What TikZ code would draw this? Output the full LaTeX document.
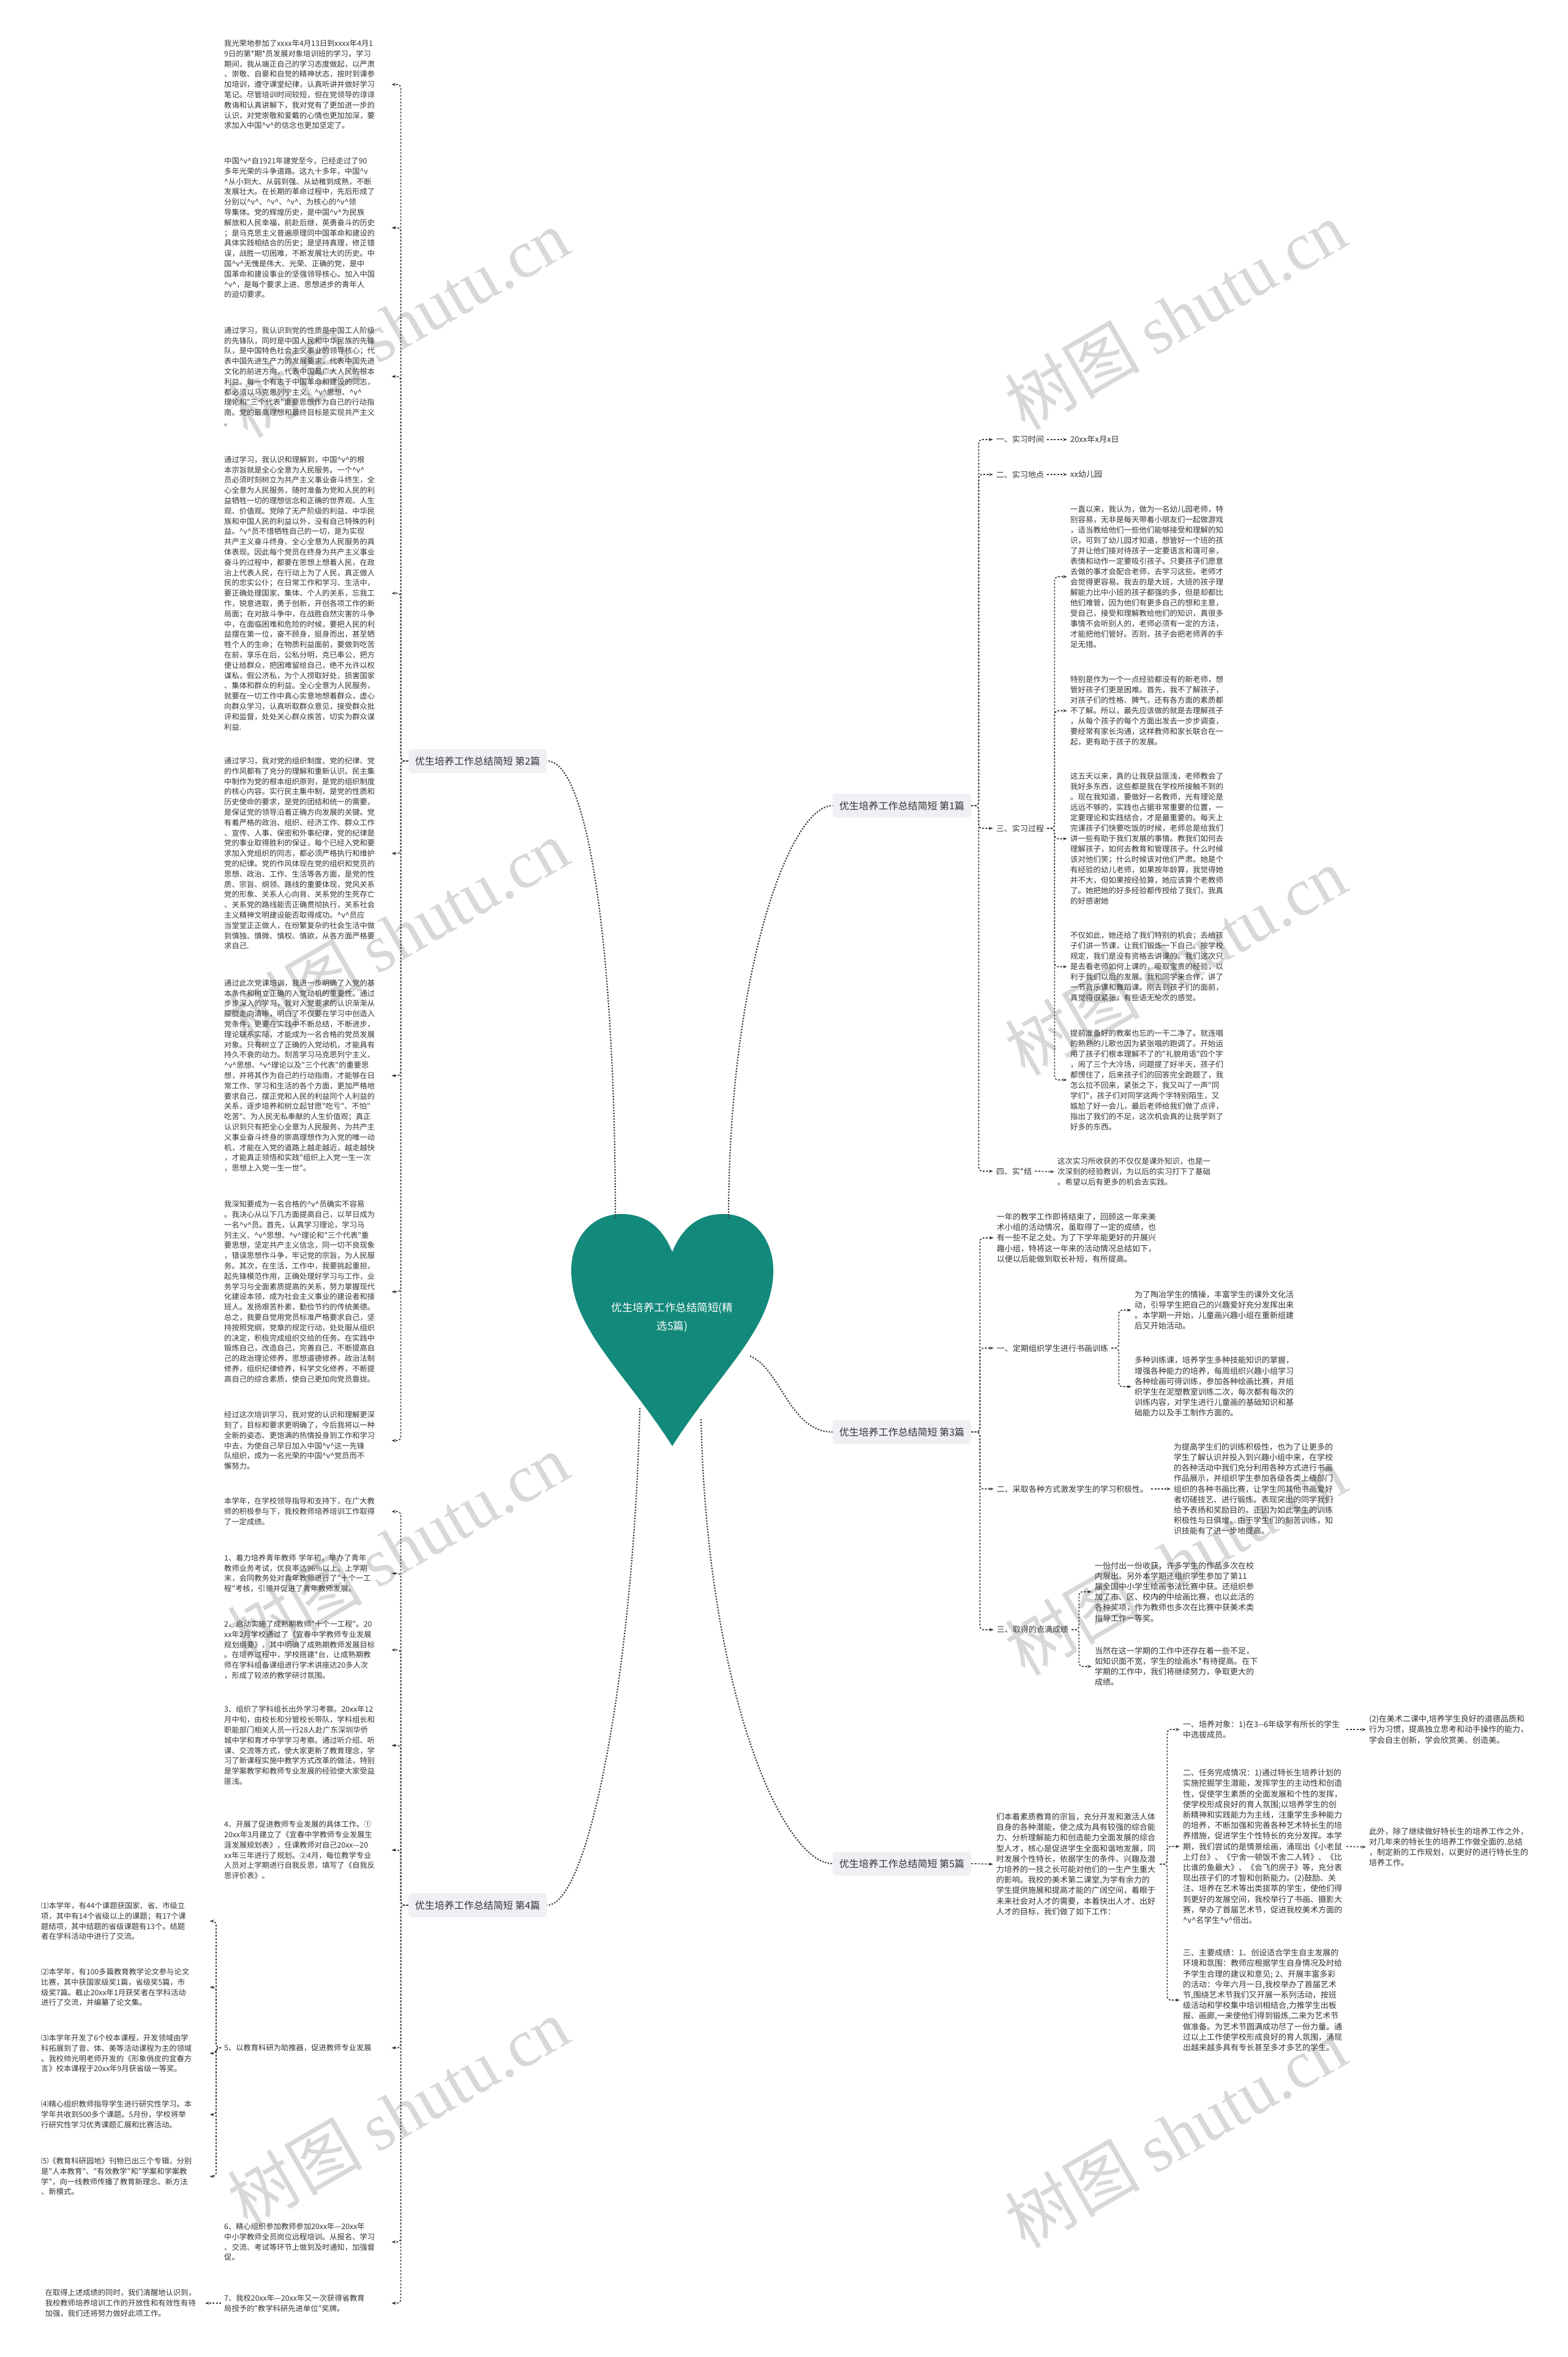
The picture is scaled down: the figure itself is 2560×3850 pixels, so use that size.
\documentclass[tikz,border=0pt]{standalone}
\usepackage{fontspec}
\usetikzlibrary{arrows.meta}
\newfontfamily\cjk{Noto Sans CJK SC}
\newfontfamily\wmfont{Liberation Serif}
\definecolor{txt}{HTML}{333333}
\definecolor{linec}{HTML}{3A3A3A}
\definecolor{labfill}{HTML}{EEF0F3}
\definecolor{heartc}{HTML}{13897B}
\definecolor{wmc}{HTML}{D8D8D8}
\newcommand{\vv}{\textasciicircum v\textasciicircum}
\begin{document}
\begin{tikzpicture}[x=1pt, y=-1pt]
    \tikzstyle{para} = [font=\cjk\fontsize{12.3}{16.8}\selectfont, text=txt, align=left, text width=268pt, inner xsep=5pt, inner ysep=2pt]
    \tikzstyle{parb} = [font=\cjk\fontsize{12.5}{17}\selectfont, text=txt, align=left, text width=262pt, inner xsep=5pt, inner ysep=2pt]
    \tikzstyle{parc} = [font=\cjk\fontsize{13}{17.2}\selectfont, text=txt, align=left, text width=262pt, inner xsep=5pt, inner ysep=2pt]
    \tikzstyle{item} = [font=\cjk\fontsize{13}{17}\selectfont, text=txt, inner xsep=5pt]
    \tikzstyle{branch} = [rectangle, rounded corners=6pt, fill=labfill, font=\cjk\fontsize{16}{18}\selectfont, text=txt, inner xsep=11pt, minimum height=39pt]
    \tikzstyle{root} = [font=\cjk\fontsize{17.5}{30}\selectfont, text=white, align=center]
    \tikzstyle{wmark} = [font=\fontsize{110}{110}\selectfont, text=wmc, rotate=30]
    \tikzstyle{link} = [draw=linec, line width=1.6pt, dash pattern=on 3pt off 2.5pt, rounded corners=6pt, -{Stealth[length=7pt,width=5pt]}]
    \tikzstyle{stem} = [draw=linec, line width=2.2pt, dash pattern=on 2.2pt off 2.4pt]

    \useasboundingbox (0,0) rectangle (2560,3850);
    \fill [white] (0,0) rectangle (2560,3850);

    % Watermarks
    \foreach \wx/\wy [count=\i] in {650/528, 1920/515, 650/1525, 1920/1570, 650/2528, 1920/2550, 650/3450, 1920/3485}
        \node [wmark] (wm\i) at (\wx,\wy) {\cjk 树图 \wmfont shutu.cn};

    % Heart
    \fill [heartc] (1098,2045) .. controls (1080,2000) and (1050,1983) .. (1015,1983)
        .. controls (965,1983) and (933,2025) .. (933,2075)
        .. controls (933,2170) and (1020,2240) .. (1098,2362)
        .. controls (1176,2240) and (1263,2170) .. (1263,2075)
        .. controls (1263,2025) and (1231,1983) .. (1181,1983)
        .. controls (1146,1983) and (1116,2000) .. (1098,2045) -- cycle;
    \node [root] (root) at (1098,2152) {优生培养工作总结简短(精\\选5篇)};
    \coordinate (hl) at (1005,1990);
    \coordinate (hr) at (1190,1990);
    \coordinate (hm) at (1225,2215);
    \coordinate (hb) at (1145,2318);
    \coordinate (hd) at (1045,2300);

    % Branches
    \node [branch] (lab2) at (780,1243) {优生培养工作总结简短 第2篇};
    \node [branch] (lab4) at (780,3112) {优生培养工作总结简短 第4篇};
    \node [branch] (lab1) at (1473,1316) {优生培养工作总结简短 第1篇};
    \node [branch] (lab3) at (1473,2339) {优生培养工作总结简短 第3篇};
    \node [branch] (lab5) at (1473,3044) {优生培养工作总结简短 第5篇};

    \draw [stem] (hl) .. controls +(0,-420) and +(70,0) .. (lab2.east);
    \draw [stem] (hd) .. controls +(-10,420) and +(70,0) .. (lab4.east);
    \draw [stem] (hr) .. controls +(0,-400) and +(-70,0) .. (lab1.west);
    \draw [stem] (hm) .. controls +(50,20) and +(-70,0) .. (lab3.west);
    \draw [stem] (hb) .. controls +(10,450) and +(-80,0) .. (lab5.west);

    % Part 2
    \node [para, anchor=west] (p1) at (361,138) {我光荣地参加了xxxx年4月13日到xxxx年4月1\\9日的第*期*员发展对象培训班的学习。学习\\期间，我从端正自己的学习态度做起，以严肃\\、崇敬、自豪和自觉的精神状态，按时到课参\\加培训，遵守课堂纪律，认真听讲并做好学习\\笔记。尽管培训时间较短，但在党领导的谆谆\\教诲和认真讲解下，我对党有了更加进一步的\\认识，对党崇敬和爱戴的心情也更加加深，要\\求加入中国\vv{}的信念也更加坚定了。};
    \node [para, anchor=west] (p2) at (361,372) {中国\vv{}自1921年建党至今，已经走过了90\\多年光荣的斗争道路。这九十多年，中国\textasciicircum v\\\textasciicircum 从小到大、从弱到强、从幼稚到成熟，不断\\发展壮大。在长期的革命过程中，先后形成了\\分别以\vv{}、\vv{}、\vv{}、为核心的\vv{}领\\导集体。党的辉煌历史，是中国\vv{}为民族\\解放和人民幸福，前赴后继，英勇奋斗的历史\\；是马克思主义普遍原理同中国革命和建设的\\具体实践相结合的历史；是坚持真理，修正错\\误，战胜一切困难，不断发展壮大的历史。中\\国\vv{}无愧是伟大、光荣、正确的党，是中\\国革命和建设事业的坚强领导核心。加入中国\\\vv{}，是每个要求上进、思想进步的青年人\\的迫切要求。};
    \node [para, anchor=west] (p3) at (361,615) {通过学习，我认识到党的性质是中国工人阶级\\的先锋队，同时是中国人民和中华民族的先锋\\队，是中国特色社会主义事业的领导核心；代\\表中国先进生产力的发展要求，代表中国先进\\文化的前进方向，代表中国最广大人民的根本\\利益。每一个有志于中国革命和建设的同志，\\都必须以马克思列宁主义、\vv{}思想、\vv{}\\理论和"三个代表"重要思想作为自己的行动指\\南。党的最高理想和最终目标是实现共产主义\\。};
    \node [para, anchor=west] (p4) at (361,969) {通过学习，我认识和理解到，中国\vv{}的根\\本宗旨就是全心全意为人民服务。一个\vv{}\\员必须时刻树立为共产主义事业奋斗终生，全\\心全意为人民服务，随时准备为党和人民的利\\益牺牲一切的理想信念和正确的世界观、人生\\观、价值观。党除了无产阶级的利益、中华民\\族和中国人民的利益以外，没有自己特殊的利\\益。\vv{}员不惜牺牲自己的一切，是为实现\\共产主义奋斗终身、全心全意为人民服务的具\\体表现。因此每个党员在终身为共产主义事业\\奋斗的过程中，都要在思想上想着人民，在政\\治上代表人民，在行动上为了人民，真正做人\\民的忠实公仆；在日常工作和学习、生活中，\\要正确处理国家、集体、个人的关系，忘我工\\作，锐意进取，勇于创新，开创各项工作的新\\局面；在对敌斗争中，在战胜自然灾害的斗争\\中，在面临困难和危险的时候，要把人民的利\\益摆在第一位，奋不顾身，挺身而出，甚至牺\\牲个人的生命；在物质利益面前，要做到吃苦\\在前，享乐在后，公私分明，克已奉公，把方\\便让给群众，把困难留给自己，绝不允许以权\\谋私，假公济私，为个人捞取好处，损害国家\\、集体和群众的利益。全心全意为人民服务，\\就要在一切工作中真心实意地想着群众，虚心\\向群众学习，认真听取群众意见，接受群众批\\评和监督，处处关心群众疾苦，切实为群众谋\\利益.};
    \node [para, anchor=west] (p5) at (361,1394) {通过学习，我对党的组织制度、党的纪律、党\\的作风都有了充分的理解和重新认识。民主集\\中制作为党的根本组织原则，是党的组织制度\\的核心内容。实行民主集中制，是党的性质和\\历史使命的要求，是党的团结和统一的需要，\\是保证党的领导沿着正确方向发展的关键。党\\有着严格的政治、组织、经济工作、群众工作\\、宣传、人事、保密和外事纪律，党的纪律是\\党的事业取得胜利的保证，每个已经入党和要\\求加入党组织的同志，都必须严格执行和维护\\党的纪律。党的作风体现在党的组织和党员的\\思想、政治、工作、生活等各方面，是党的性\\质、宗旨、纲领、路线的重要体现，党风关系\\党的形象、关系人心向背、关系党的生死存亡\\、关系党的路线能否正确贯彻执行，关系社会\\主义精神文明建设能否取得成功。\vv{}员应\\当堂堂正正做人，在纷繁复杂的社会生活中做\\到慎独、慎微、慎权、慎欲，从各方面严格要\\求自己.};
    \node [para, anchor=west] (p6) at (361,1757) {通过此次党课培训，我进一步明确了入党的基\\本条件和树立正确的入党动机的重要性。通过\\步步深入的学习，我对入党要求的认识渐渐从\\朦胧走向清晰，明白了不仅要在学习中创造入\\党条件，更要在实践中不断总结，不断进步，\\理论联系实际，才能成为一名合格的党员发展\\对象。只有树立了正确的入党动机，才能具有\\持久不衰的动力。刻苦学习马克思列宁主义、\\\vv{}思想、\vv{}理论以及"三个代表"的重要思\\想，并将其作为自己的行动指南，才能够在日\\常工作、学习和生活的各个方面，更加严格地\\要求自己，摆正党和人民的利益同个人利益的\\关系，逐步培养和树立起甘愿"吃亏"、不怕"\\吃苦"、为人民无私奉献的人生价值观；真正\\认识到只有把全心全意为人民服务，为共产主\\义事业奋斗终身的崇高理想作为入党的唯一动\\机，才能在入党的道路上越走越近，越走越快\\，才能真正领悟和实践"组织上入党一生一次\\，思想上入党一生一世"。};
    \node [para, anchor=west] (p7) at (361,2110) {我深知要成为一名合格的\vv{}员确实不容易\\。我决心从以下几方面提高自己，以早日成为\\一名\vv{}员。首先，认真学习理论，学习马\\列主义、\vv{}思想、\vv{}理论和"三个代表"重\\要思想，坚定共产主义信念，同一切不良现象\\，错误思想作斗争，牢记党的宗旨，为人民服\\务。其次，在生活，工作中，我要挑起重担，\\起先锋模范作用，正确处理好学习与工作，业\\务学习与全面素质提高的关系，努力掌握现代\\化建设本领，成为社会主义事业的建设者和接\\班人。发扬艰苦朴素，勤俭节约的传统美德。\\总之，我要自觉用党员标准严格要求自己，坚\\持按照党纲，党章的规定行动，处处服从组织\\的决定，积极完成组织交给的任务。在实践中\\锻炼自己，改造自己，完善自己，不断提高自\\己的政治理论修养，思想道德修养，政治法制\\修养，组织纪律修养，科学文化修养，不断提\\高自己的综合素质，使自己更加向党员靠拢。};
    \node [para, anchor=west] (p8) at (361,2353) {经过这次培训学习，我对党的认识和理解更深\\刻了，目标和要求更明确了，今后我将以一种\\全新的姿态、更饱满的热情投身到工作和学习\\中去，为使自己早日加入中国\vv{}这一先锋\\队组织，成为一名光荣的中国\vv{}党员而不\\懈努力。};

    \foreach \i in {1,...,8}
        \draw [link] (lab2.west) -- ++(-12,0) |- (p\i.east);

    % Part 4
    \node [para, anchor=west] (f1) at (361,2469) {本学年，在学校领导指导和支持下，在广大教\\师的积极参与下，我校教师培养培训工作取得\\了一定成绩。};
    \node [para, anchor=west] (f2) at (361,2570) {1、着力培养青年教师\ 学年初，举办了青年\\教师业务考试，优良率达96\%以上。上学期\\末，会同教务处对青年教师进行了"十个一工\\程"考核，引领并促进了青年教师发展。};
    \node [para, anchor=west] (f3) at (361,2695) {2、启动实施了成熟期教师"十个一工程"。20\\xx年2月学校通过了《宜春中学教师专业发展\\规划纲要》，其中明确了成熟期教师发展目标\\。在培养过程中，学校搭建*台，让成熟期教\\师在学科组备课组进行学术讲座达20多人次\\，形成了较浓的教学研讨氛围。};
    \node [para, anchor=west] (f4) at (361,2851) {3、组织了学科组长出外学习考察。20xx年12\\月中旬，由校长和分管校长带队，学科组长和\\职能部门相关人员一行28人赴广东深圳华侨\\城中学和育才中学学习考察。通过听介绍、听\\课、交流等方式，使大家更新了教育理念，学\\习了新课程实施中教学方式改革的做法，特别\\是学案教学和教师专业发展的经验使大家受益\\匪浅。};
    \node [para, anchor=west] (f5) at (361,3022) {4、开展了促进教师专业发展的具体工作。①\\20xx年3月建立了《宜春中学教师专业发展生\\涯发展规划表》，任课教师对自己20xx—20\\xx年三年进行了规划。②4月，每位教学专业\\人员对上学期进行自我反思，填写了《自我反\\思评价表》。};
    \node [para, anchor=west] (f6) at (361,3345) {5、以教育科研为助推器，促进教师专业发展};
    \node [para, anchor=west] (f7) at (361,3662) {6、精心组织参加教师参加20xx年—20xx年\\中小学教师全员岗位远程培训。从报名、学习\\、交流、考试等环节上做到及时通知，加强督\\促。};
    \node [para, anchor=west] (f8) at (361,3762) {7、我校20xx年—20xx年又一次获得省教育\\局授予的"教学科研先进单位"奖牌。};

    \foreach \i in {1,...,8}
        \draw [link] (lab4.west) -- ++(-12,0) |- (f\i.east);

    % Research results
    \node [para, anchor=west, text width=270pt] (q1) at (62,3138) {⑴本学年，有44个课题获国家、省、市级立\\项，其中有14个省级以上的课题；有17个课\\题结项，其中结题的省级课题有13个。结题\\者在学科活动中进行了交流。};
    \node [para, anchor=west, text width=270pt] (q2) at (62,3246) {⑵本学年，有100多篇教育教学论文参与论文\\比赛，其中获国家级奖1篇，省级奖5篇，市\\级奖7篇。截止20xx年1月获奖者在学科活动\\进行了交流，并编纂了论文集。};
    \node [para, anchor=west, text width=270pt] (q3) at (62,3354) {⑶本学年开发了6个校本课程，开发领域由学\\科拓展到了音、体、美等活动课程为主的领域\\。我校帅光明老师开发的《形象俏皮的宜春方\\言》校本课程于20xx年9月获省级一等奖。};
    \node [para, anchor=west, text width=270pt] (q4) at (62,3454) {⑷精心组织教师指导学生进行研究性学习。本\\学年共收到500多个课题。5月份，学校将举\\行研究性学习优秀课题汇展和比赛活动。};
    \node [para, anchor=west, text width=270pt] (q5) at (62,3555) {⑸《教育科研园地》刊物已出三个专辑，分别\\是"人本教育"、"有效教学"和"学案和学案教\\学"，向一线教师传播了教育新理念、新方法\\、新模式。};

    \foreach \i in {1,...,5}
        \draw [link] (f6.west) -- ++(-8,0) |- (q\i.east);

    \node [para, anchor=east, text width=256pt] (w7) at (335,3762) {在取得上述成绩的同时，我们清醒地认识到，\\我校教师培养培训工作的开放性和有效性有待\\加强，我们还将努力做好此项工作。};
    \draw [link] (f8.west) -- (w7.east);

    % Part 1
    \node [item, anchor=west] (s1) at (1622,718) {一、实习时间};
    \node [item, anchor=west] (s2) at (1622,775) {二、实习地点};
    \node [item, anchor=west] (s3) at (1622,1353) {三、实习过程};
    \node [item, anchor=west] (s4) at (1622,1913) {四、实*结};
    \node [item, anchor=west] (t1) at (1743,718) {20xx年x月x日};
    \node [item, anchor=west] (t2) at (1743,775) {xx幼儿园};
    \node [parb, anchor=west] (t4) at (1722,1914) {这次实习所收获的不仅仅是课外知识，也是一\\次深刻的经验教训，为以后的实习打下了基础\\。希望以后有更多的机会去实践。};

    \node [parb, anchor=west] (c1) at (1743,942) {一直以来，我认为，做为一名幼儿园老师，特\\别容易，无非是每天带着小朋友们一起做游戏\\，适当教给他们一些他们能够接受和理解的知\\识，可到了幼儿园才知道，想管好一个班的孩\\了并让他们接对待孩子一定要语言和蔼可亲，\\表情和动作一定要吸引孩子。只要孩子们愿意\\去做的事才会配合老师，去学习这些。老师才\\会觉得更容易。我去的是大班，大班的孩子理\\解能力比中小班的孩子都强的多，但是却都比\\他们难管，因为他们有更多自己的想和主意，\\受自己，接受和理解教给他们的知识，真很多\\事情不会听别人的，老师必须有一定的方法，\\才能把他们管好。否则，孩子会把老师弄的手\\足无措。};
    \node [parb, anchor=west] (c2) at (1743,1161) {特别是作为一个一点经验都没有的新老师，想\\管好孩子们更是困难。首先，我不了解孩子，\\对孩子们的性格、脾气，还有各方面的素质都\\不了解。所以，最先应该做的就是去理解孩子\\，从每个孩子的每个方面出发去一步步调查，\\要经常有家长沟通，这样教师和家长联合在一\\起，更有助于孩子的发展。};
    \node [parb, anchor=west] (c3) at (1743,1370) {这五天以来，真的让我获益匪浅，老师教会了\\我好多东西，这些都是我在学校所接触不到的\\。现在我知道，要做好一名教师，光有理论是\\远远不够的，实践也占据非常重要的位置，一\\定要理论和实践结合，才是最重要的。每天上\\完课孩子们快要吃饭的时候，老师总是给我们\\讲一些有助于我们发展的事情。教我们如何去\\理解孩子，如何去教育和管理孩子。什么时候\\该对他们笑；什么时候该对他们严肃。她是个\\有经验的幼儿老师，如果按年龄算，我觉得她\\并不大，但如果按经验算，她应该算个老教师\\了。她把她的好多经验都传授给了我们，我真\\的好感谢她};
    \node [parb, anchor=west] (c4) at (1743,1579) {不仅如此，她还给了我们特别的机会；去给孩\\子们讲一节课，让我们锻炼一下自己。按学校\\规定，我们是没有资格去讲课的。我们这次只\\是去看老师如何上课的，吸取宝贵的经验，以\\利于我们以后的发展。我和同学来合作，讲了\\一节音乐课和舞蹈课。刚去到孩子们的面前，\\真觉得很紧张，有些语无伦次的感觉。};
    \node [parb, anchor=west] (c5) at (1743,1764) {提前准备好的教案也忘的一干二净了。就连唱\\的熟熟的儿歌也因为紧张唱的跑调了。开始运\\用了孩子们根本理解不了的"礼貌用语"四个字\\，闹了三个大冷场，问题提了好半天，孩子们\\都愣住了，后来孩子们的回答完全跑题了，我\\怎么拉不回来，紧张之下，我又叫了一声"同\\学们"，孩子们对同学这两个字特别陌生，又\\尴尬了好一会儿，最后老师给我们做了点评，\\指出了我们的不足，这次机会真的让我学到了\\好多的东西。};

    \foreach \i in {1,...,4}
        \draw [link] (lab1.east) -- ++(12,0) |- (s\i.west);
    \foreach \i in {1,...,5}
        \draw [link] (s3.east) -- ++(12,0) |- (c\i.west);
    \draw [link] (s1.east) -- (t1.west);
    \draw [link] (s2.east) -- (t2.west);
    \draw [link] (s4.east) -- (t4.west);

    % Part 3
    \node [parc, anchor=west] (g0) at (1623,2022) {一年的教学工作即将结束了，回顾这一年来美\\术小组的活动情况，虽取得了一定的成绩，也\\有一些不足之处。为了下学年能更好的开展兴\\趣小组，特将这一年来的活动情况总结如下，\\以便以后能做到取长补短，有所提高。};
    \node [item, anchor=west] (g1) at (1623,2202) {一、定期组织学生进行书画训练};
    \node [item, anchor=west] (g2) at (1623,2432) {二、采取各种方式激发学生的学习积极性。};
    \node [item, anchor=west] (g3) at (1623,2662) {三、取得的点滴成绩};
    \node [parc, anchor=west] (h1) at (1848,2140) {为了陶冶学生的情操，丰富学生的课外文化活\\动，引导学生把自己的兴趣爱好充分发挥出来\\。本学期一开始，儿童画兴趣小组在重新组建\\后又开始活动。};
    \node [parc, anchor=west] (h2) at (1848,2265) {多种训练课，培养学生多种技能知识的掌握，\\增强各种能力的培养，每周组织兴趣小组学习\\各种绘画可得训练，参加各种绘画比赛，并组\\织学生在泥塑教室训练二次，每次都有每次的\\训练内容，对学生进行儿童画的基础知识和基\\础能力以及手工制作方面的。};
    \node [parc, anchor=west] (h3) at (1912,2432) {为提高学生们的训练积极性，也为了让更多的\\学生了解认识并投入到兴趣小组中来，在学校\\的各种活动中我们充分利用各种方式进行书画\\作品展示，并组织学生参加各级各类上级部门\\组织的各种书画比赛，让学生同其他书画爱好\\者切磋技艺、进行锻炼。表现突出的同学我们\\给予表扬和奖励目的。正因为如此学生的训练\\积极性与日俱增。由于学生们的刻苦训练，知\\识技能有了进一步地提高。};
    \node [parc, anchor=west] (h4) at (1783,2600) {一份付出一份收获，许多学生的作品多次在校\\内展出。另外本学期还组织学生参加了第11\\届全国中小学生绘画书法比赛中获。还组织参\\加了市、区、校内的中绘画比赛，也以此活的\\各种奖项，作为教师也多次在比赛中获美术类\\指导工作一等奖。};
    \node [parc, anchor=west] (h5) at (1783,2722) {当然在这一学期的工作中还存在着一些不足，\\如知识面不宽，学生的绘画水*有待提高。在下\\学期的工作中，我们将继续努力，争取更大的\\成绩。};

    \draw [link] (lab3.east) -- ++(14,0) |- (g0.west);
    \foreach \i in {1,2,3}
        \draw [link] (lab3.east) -- ++(14,0) |- (g\i.west);
    \draw [link] (g1.east) -- ++(12,0) |- (h1.west);
    \draw [link] (g1.east) -- ++(12,0) |- (h2.west);
    \draw [link] (g2.east) -- (h3.west);
    \draw [link] (g3.east) -- ++(12,0) |- (h4.west);
    \draw [link] (g3.east) -- ++(12,0) |- (h5.west);

    % Part 5
    \node [parc, anchor=west] (k0) at (1622,3045) {们本着素质教育的宗旨，充分开发和激活人体\\自身的各种潜能，使之成为具有较强的综合能\\力、分析理解能力和创造能力全面发展的综合\\型人才，核心是促进学生全面和谐地发展，同\\时发展个性特长，依据学生的条件、兴趣及潜\\力培养的一技之长可能对他们的一生产生重大\\的影响。我校的美术第二课堂,为学有余力的\\学生提供施展和提高才能的广阔空间，着眼于\\未来社会对人才的需要，本着快出人才、出好\\人才的目标，我们做了如下工作：};
    \node [parc, anchor=west] (k1) at (1927,2825) {一、培养对象：1)在3-{}-6年级学有所长的学生\\中选拔成员。};
    \node [parc, anchor=west] (k2) at (1927,3016) {二、任务完成情况：1)通过特长生培养计划的\\实施挖掘学生潜能，发挥学生的主动性和创造\\性，促使学生素质的全面发展和个性的发挥，\\使学校形成良好的育人氛围;以培养学生的创\\新精神和实践能力为主线，注重学生多种能力\\的培养，不断加强和完善各种艺术特长生的培\\养措施，促进学生个性特长的充分发挥。本学\\期，我们尝试的是情景绘画，涌现出《小老鼠\\上灯台》、《宁舍一顿饭不舍二人转》、《比\\比谁的鱼最大》、《会飞的房子》等，充分表\\现出孩子们的才智和创新能力。(2)鼓励、关\\注、培养在艺术等出类拔萃的学生，使他们得\\到更好的发展空间，我校举行了书画、摄影大\\赛，举办了首届艺术节，促进我校美术方面的\\\vv{}名学生\vv{}倍出。};
    \node [parc, anchor=west] (k3) at (1927,3267) {三、主要成绩：1、创设适合学生自主发展的\\环境和氛围：教师应根据学生自身情况及时给\\予学生合理的建议和意见; 2、开展丰富多彩\\的活动：今年六月一日,我校举办了首届艺术\\节,围绕艺术节我们又开展一系列活动，按班\\级活动和学校集中培训相结合,力推学生出板\\报、画廊,一来使他们得到锻炼,二来为艺术节\\做准备。为艺术节圆满成功尽了一份力量。通\\过以上工作使学校形成良好的育人氛围，涌现\\出越来越多具有专长甚至多才多艺的学生。};
    \node [parc, anchor=west, text width=232pt] (m1) at (2231,2825) {(2)在美术二课中,培养学生良好的道德品质和\\行为习惯，提高独立思考和动手操作的能力，\\学会自主创新，学会欣赏美、创造美。};
    \node [parc, anchor=west, text width=232pt] (m2) at (2231,3017) {此外，除了继续做好特长生的培养工作之外，\\对几年来的特长生的培养工作做全面的.总结\\，制定新的工作规划，以更好的进行特长生的\\培养工作。};

    \draw [link] (lab5.east) -- (k0.west);
    \foreach \i in {1,2,3}
        \draw [link] (k0.east) -- ++(12,0) |- (k\i.west);
    \draw [link] (k1.east) -- (m1.west);
    \draw [link] (k2.east) -- (m2.west);
\end{tikzpicture}
\end{document}
